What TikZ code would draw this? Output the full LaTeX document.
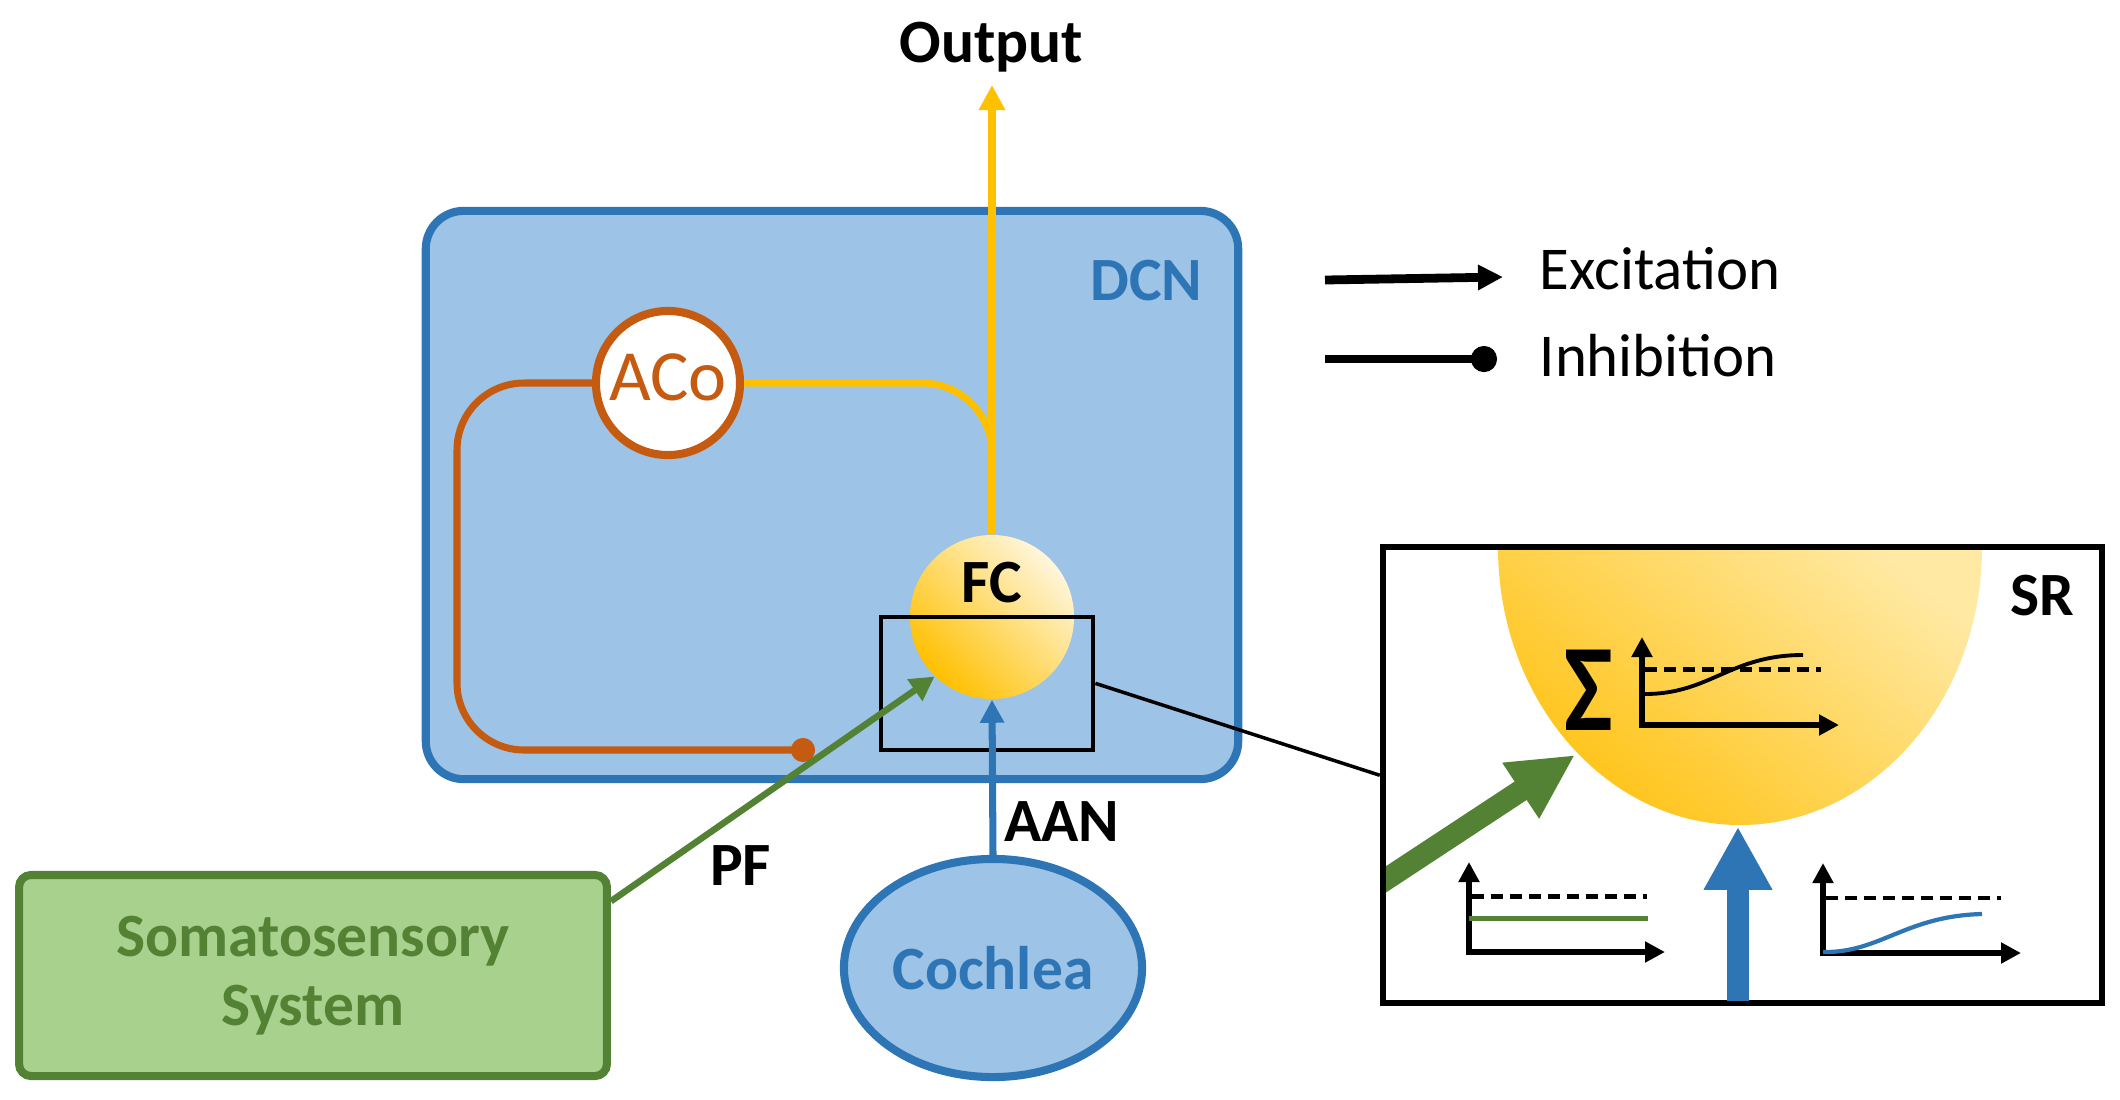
\documentclass[tikz,border=0pt]{standalone}
\usepackage{fontspec}
\setmainfont{Carlito}
\usetikzlibrary{arrows.meta,shapes.geometric,calc}
\definecolor{dcnfill}{HTML}{9DC3E6}
\definecolor{dcnblue}{HTML}{2E75B6}
\definecolor{aorange}{HTML}{C55A11}
\definecolor{yel}{HTML}{FFC000}
\definecolor{sgreen}{HTML}{548235}
\definecolor{sgreenfill}{HTML}{A9D18E}
\definecolor{fclight}{HTML}{FFF6DC}
\definecolor{fcdeep}{HTML}{FFC000}
\definecolor{srlight}{HTML}{FFE9A3}
\definecolor{srdeep}{HTML}{FFC211}
\begin{document}
\begin{tikzpicture}[x=0.01cm,y=-0.01cm,
  lbl/.style={font=\fontsize{17.5}{21}\selectfont\bfseries, inner sep=0pt, anchor=base},
  legtext/.style={font=\fontsize{17.3}{21}\selectfont, inner sep=0pt, anchor=base west},
  dcnbox/.style={draw=dcnblue, fill=dcnfill, line width=2.3pt, rounded corners=0.38cm,
    minimum width=8.12cm, minimum height=5.68cm, inner sep=0pt},
  acocirc/.style={circle, draw=aorange, fill=white, line width=2.3pt, minimum size=1.44cm, inner sep=0pt},
  fccirc/.style={circle, minimum size=1.64cm, inner sep=0pt, top color=fclight, bottom color=fcdeep, shading angle=-45},
  cochshape/.style={ellipse, draw=dcnblue, fill=dcnfill, line width=2.3pt, minimum width=2.98cm,
    minimum height=2.18cm, inner sep=0pt, text=dcnblue, font=\fontsize{17.5}{21}\selectfont\bfseries},
  somashape/.style={rectangle, draw=sgreen, fill=sgreenfill, line width=2.3pt, rounded corners=0.12cm,
    minimum width=5.875cm, minimum height=2.01cm, inner sep=0pt, align=center, text=sgreen,
    font=\fontsize{17.5}{19.5}\selectfont\bfseries},
  zoombox/.style={draw=black, line width=1.15pt, minimum width=2.126cm, minimum height=1.333cm, inner sep=0pt},
  srframe/.style={draw=black, line width=1.7pt, minimum width=7.19cm, minimum height=4.555cm, inner sep=0pt},
  yline/.style={draw=yel, line width=2pt},
  oline/.style={draw=aorange, line width=2pt},
  gline/.style={draw=sgreen, line width=1.85pt},
  bline/.style={draw=dcnblue, line width=2pt},
  axisline/.style={line width=1.6pt, {Triangle[length=0.2cm,width=0.2cm]}-{Triangle[length=0.2cm,width=0.2cm]}},
  dashline/.style={line width=1.2pt, dash pattern=on 3.4pt off 2pt}
]
\fill[white] (0,0) rectangle (2120,1099);
\useasboundingbox (0,0) rectangle (2120,1099);

% main boxes
\node[dcnbox] (dcn) at (832,495) {};
\node[lbl, text=dcnblue] (dcnlab) at (1146.5,300) {DCN};
\node[somashape] (soma) at (313,975.5) {Somatosensory\\System};
\node[cochshape] (cochlea) at (993,968) {Cochlea};

% SR inset
\node[srframe] (srbox) at (1742.5,775.25) {};
\begin{scope}
  \clip (1386,550.5) rectangle (2099,1000);
  \begin{scope}
    \clip (1740,547) ellipse [x radius=242, y radius=278];
    \shade[top color=srlight, bottom color=srdeep, shading angle=-40] (1490,540) rectangle (1990,830);
  \end{scope}
  \coordinate (garrs) at (1360,896.4);
  \coordinate (garre) at (1575,755);
  \draw[draw=sgreen, line width=6.26pt, -{Triangle[length=0.65cm,width=0.62cm]}] (garrs) -- (garre);
  \coordinate (barrs) at (1738,1010);
  \coordinate (barre) at (1738,826.7);
  \draw[draw=dcnblue, line width=6.26pt, -{Triangle[length=0.63cm,width=0.64cm]}] (barrs) -- (barre);
\end{scope}
\node[inner sep=0pt, anchor=base] (sigma) at (1589,730) {\scalebox{1.05}[1.26]{\fontsize{28}{28}\selectfont\bfseries Σ}};
% main graph
\draw[axisline] (1642,637) -- (1642,725) -- (1839,725);
\draw[dashline] (1645,669.5) -- (1821,669.5);
\draw[line width=1.1pt] (1645,694) .. controls (1710,694) and (1730,655) .. (1803,655);
% left small graph
\draw[axisline] (1469,862) -- (1469,952) -- (1665,952);
\draw[dashline] (1472,896.5) -- (1647,896.5);
\draw[draw=sgreen, line width=1.4pt] (1469,918.5) -- (1648,918.5);
% right small graph
\draw[axisline] (1823,863) -- (1823,953) -- (2021,953);
\draw[dashline] (1826,898) -- (2001,898);
\draw[draw=dcnblue, line width=1.2pt] (1823,952) .. controls (1880,953) and (1905,916) .. (1982,914);
\node[lbl] (srlab) at (2042,615) {SR};

% cells
\node[acocirc] (aco) at (668,383) {};
\node[inner sep=0pt, anchor=base, text=aorange, font=\fontsize{20.5}{24}\selectfont] (acolab) at (668,400) {ACo};
\node[fccirc] (fc) at (992,617) {};
\node[lbl] (fclab) at (992,602) {FC};
\node[zoombox] (zoomrect) at (987,683.35) {};

% connectors
\coordinate (outtip) at (992,85);
\draw[yline, rounded corners=0.7cm] (aco.east) -| (fc.north);
\draw[yline, -{Triangle[length=0.25cm,width=0.25cm]}] (fc.north) -- (outtip);
\coordinate (ocorner) at (457,750);
\coordinate (inhend) at (815,750);
\draw[oline, rounded corners=0.67cm, -{Circle[length=0.24cm]}] (aco.west) -| (ocorner) -- (inhend);
\draw[gline, -{Triangle[length=0.24cm,width=0.25cm]}] (soma.14) -- (fc.226);
\draw[bline, -{Triangle[length=0.23cm,width=0.23cm]}] (cochlea.north) -- (fc.south);
\draw[line width=1pt] (zoomrect.east) -- (srbox.west);

% labels
\node[lbl] (outlab) at (991.5,62) {Output};
\node[lbl] (pflab) at (740.5,885) {PF};
\node[lbl] (aanlab) at (1061.7,841.7) {AAN};

% legend
\coordinate (exs) at (1325,280);
\coordinate (exe) at (1503,277);
\draw[line width=2.5pt, -{Triangle[length=0.25cm,width=0.24cm]}] (exs) -- (exe);
\coordinate (ins) at (1325,359);
\coordinate (ine) at (1497,359);
\draw[line width=2.5pt, -{Circle[length=0.26cm]}] (ins) -- (ine);
\node[legtext] (exlab) at (1539,289) {Excitation};
\node[legtext] (inlab) at (1539,376) {Inhibition};
\end{tikzpicture}
\end{document}
